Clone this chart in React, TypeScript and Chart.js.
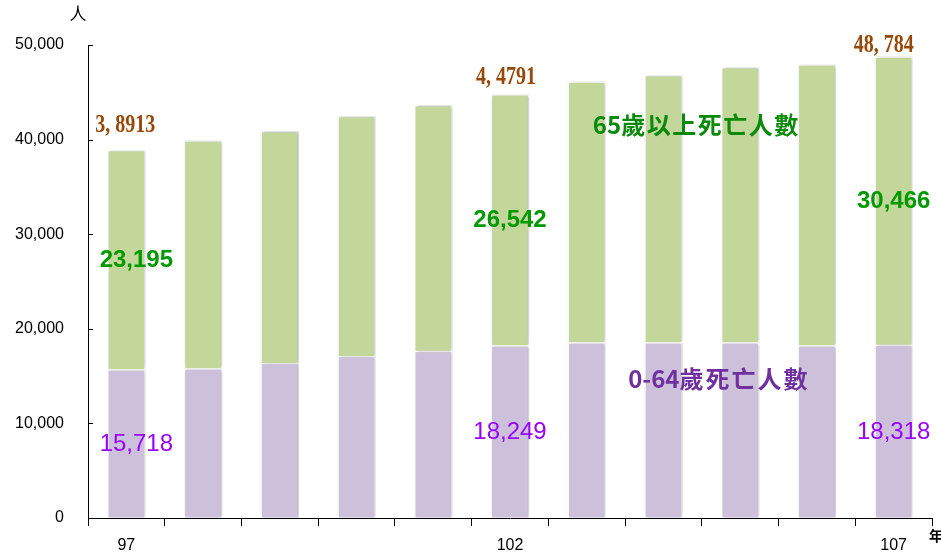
import React, { useEffect, useRef } from 'react';
import { Chart, registerables } from 'chart.js';

Chart.register(...registerables);

// ---- data ----
const years = ['97', '98', '99', '100', '101', '102', '103', '104', '105', '106', '107'];
const shownYears = ['97', '102', '107'];
const deathsUnder65 = [15718, 15830, 16390, 17130, 17690, 18249, 18570, 18570, 18570, 18260, 18318];
const deaths65Plus = [23195, 24100, 24520, 25370, 25970, 26542, 27560, 28260, 29110, 29710, 30466];
const labeledIndexes = [0, 5, 10];
const totalLabelTexts = ['3, 8913', '4, 4791', '48, 784'];
const seriesNamePrefixes = ['0-64', '65'];
const seriesNameSuffixes = ['歲死亡人數', '歲以上死亡人數'];
const yUnit = '人';
const xUnit = '年';

const GREEN_FILL = '#C4D79B';
const PURPLE_FILL = '#CCC0DA';
const GREEN_TEXT = '#009A00';
const PURPLE_TEXT = '#9A00FF';
const BROWN_TEXT = '#974806';
const LEGEND_GREEN = '#0A8A0A';
const LEGEND_PURPLE = '#7030A0';

const fmt = (v: number) => v.toLocaleString('en-US');

const overlayPlugin = {
  id: 'overlay',
  beforeDatasetsDraw(chart: any) {
    const ctx = chart.ctx;
    ctx.save();
    ctx.shadowColor = 'rgba(0,0,0,0.28)';
    ctx.shadowBlur = 3;
    ctx.shadowOffsetX = 1;
    ctx.shadowOffsetY = 0;
  },
  afterDatasetsDraw(chart: any) {
    const ctx = chart.ctx;
    ctx.restore();
    const lowMeta = chart.getDatasetMeta(0);
    const highMeta = chart.getDatasetMeta(1);
    const xScale = chart.scales.x;
    const yScale = chart.scales.y;

    // value labels
    labeledIndexes.forEach((idx, k) => {
      const low = lowMeta.data[idx];
      const high = highMeta.data[idx];
      const dx = idx === 0 ? 10 : 0;

      // purple (0-64)
      ctx.save();
      ctx.font = '24px "Liberation Sans"';
      ctx.fillStyle = PURPLE_TEXT;
      ctx.textAlign = 'center';
      ctx.textBaseline = 'middle';
      ctx.fillText(fmt(deathsUnder65[idx]), low.x + dx, (low.y + low.base) / 2 + 1);
      ctx.restore();

      // green (65+)
      ctx.save();
      ctx.font = 'bold 24px "Liberation Sans"';
      ctx.fillStyle = GREEN_TEXT;
      ctx.textAlign = 'center';
      ctx.textBaseline = 'middle';
      ctx.fillText(fmt(deaths65Plus[idx]), high.x + dx, (high.y + high.base) / 2 + 1);
      ctx.restore();

      // brown total
      const offsets = [18, 10, 5];
      const shifts = [-1, -4, -10];
      ctx.save();
      ctx.translate(high.x + shifts[k], high.y - offsets[k]);
      ctx.scale(0.8, 1);
      ctx.font = 'bold 25px "Liberation Serif"';
      ctx.fillStyle = BROWN_TEXT;
      ctx.textAlign = 'center';
      ctx.textBaseline = 'alphabetic';
      ctx.fillText(totalLabelTexts[k], 0, 0);
      ctx.restore();
    });

    // series name labels (latin part tight, CJK part spaced)
    const drawName = (prefix: string, suffix: string, xi: number, yv: number, color: string, spacing: number) => {
      ctx.save();
      ctx.font = 'bold 24px "Noto Sans CJK TC"';
      ctx.fillStyle = color;
      ctx.textAlign = 'left';
      ctx.textBaseline = 'middle';
      const x0 = xScale.getPixelForValue(xi);
      const y0 = yScale.getPixelForValue(yv);
      (ctx as any).letterSpacing = '0px';
      ctx.fillText(prefix, x0, y0);
      const w = ctx.measureText(prefix).width;
      (ctx as any).letterSpacing = `${spacing}px`;
      ctx.fillText(suffix, x0 + w, y0);
      ctx.restore();
    };
    drawName(seriesNamePrefixes[1], seriesNameSuffixes[1], 6.08, 41540, LEGEND_GREEN, 1.5);
    drawName(seriesNamePrefixes[0], seriesNameSuffixes[0], 6.54, 14690, LEGEND_PURPLE, 2);
  },
  afterDraw(chart: any) {
    const ctx = chart.ctx;
    const yScale = chart.scales.y;
    const area = chart.chartArea;
    // inner tick marks on y axis
    ctx.save();
    ctx.strokeStyle = '#000';
    ctx.lineWidth = 1;
    yScale.ticks.forEach((t: any) => {
      const py = Math.round(yScale.getPixelForValue(t.value)) + 0.5;
      ctx.beginPath();
      ctx.moveTo(area.left, py);
      ctx.lineTo(area.left + 5, py);
      ctx.stroke();
    });
    // unit labels
    ctx.fillStyle = '#000';
    ctx.textBaseline = 'middle';
    ctx.textAlign = 'center';
    ctx.font = '17px "Noto Sans CJK TC"';
    ctx.fillText(yUnit, area.left - 10, area.top - 31);
    ctx.font = 'bold 14px "Noto Sans CJK TC"';
    ctx.fillText(xUnit, area.right + 4, area.bottom + 18);
    ctx.restore();
  },
};

export default function App() {
  const canvasRef = useRef<HTMLCanvasElement | null>(null);

  useEffect(() => {
    if (!canvasRef.current) return;
    const chart = new Chart(canvasRef.current, {
      type: 'bar',
      data: {
        labels: years,
        datasets: [
          {
            label: seriesNamePrefixes[0] + seriesNameSuffixes[0],
            data: deathsUnder65,
            backgroundColor: PURPLE_FILL,
            borderColor: '#ffffff',
            borderWidth: 1.5,
            barPercentage: 0.5,
            categoryPercentage: 1,
          },
          {
            label: seriesNamePrefixes[1] + seriesNameSuffixes[1],
            data: deaths65Plus,
            backgroundColor: GREEN_FILL,
            borderColor: '#ffffff',
            borderWidth: 1.5,
            barPercentage: 0.5,
            categoryPercentage: 1,
          },
        ],
      },
      options: {
        animation: false,
        responsive: true,
        maintainAspectRatio: false,
        layout: { padding: { top: 45, right: 9, left: 0, bottom: 0 } },
        plugins: {
          legend: { display: false },
          tooltip: { enabled: false },
        },
        scales: {
          x: {
            stacked: true,
            offset: true,
            grid: {
              display: true,
              offset: true,
              drawOnChartArea: false,
              drawTicks: true,
              tickLength: 8,
              color: '#000',
              lineWidth: 1,
            },
            border: { display: true, color: '#000', width: 1 },
            ticks: {
              autoSkip: false,
              maxRotation: 0,
              padding: 10,
              color: '#000',
              font: { family: '"Liberation Sans"', size: 16 },
              callback: function (this: any, value: any) {
                const lab = this.getLabelForValue(value);
                return shownYears.includes(lab) ? lab : '';
              },
            },
            afterFit: (scale: any) => {
              scale.height = 37;
            },
          },
          y: {
            stacked: true,
            min: 0,
            max: 50000,
            grid: { display: true, drawOnChartArea: false, drawTicks: false },
            border: { display: true, color: '#000', width: 1 },
            ticks: {
              stepSize: 10000,
              padding: 24,
              color: '#000',
              font: { family: '"Liberation Sans"', size: 16 },
              callback: (v: any) => fmt(Number(v)),
            },
            afterFit: (scale: any) => {
              scale.width = 88;
            },
          },
        },
      },
      plugins: [overlayPlugin],
    });
    return () => chart.destroy();
  }, []);

  return (
    <div style={{ position: 'absolute', left: 0, top: 0, width: 941, height: 555, background: '#fff' }}>
      <canvas ref={canvasRef} />
    </div>
  );
}
